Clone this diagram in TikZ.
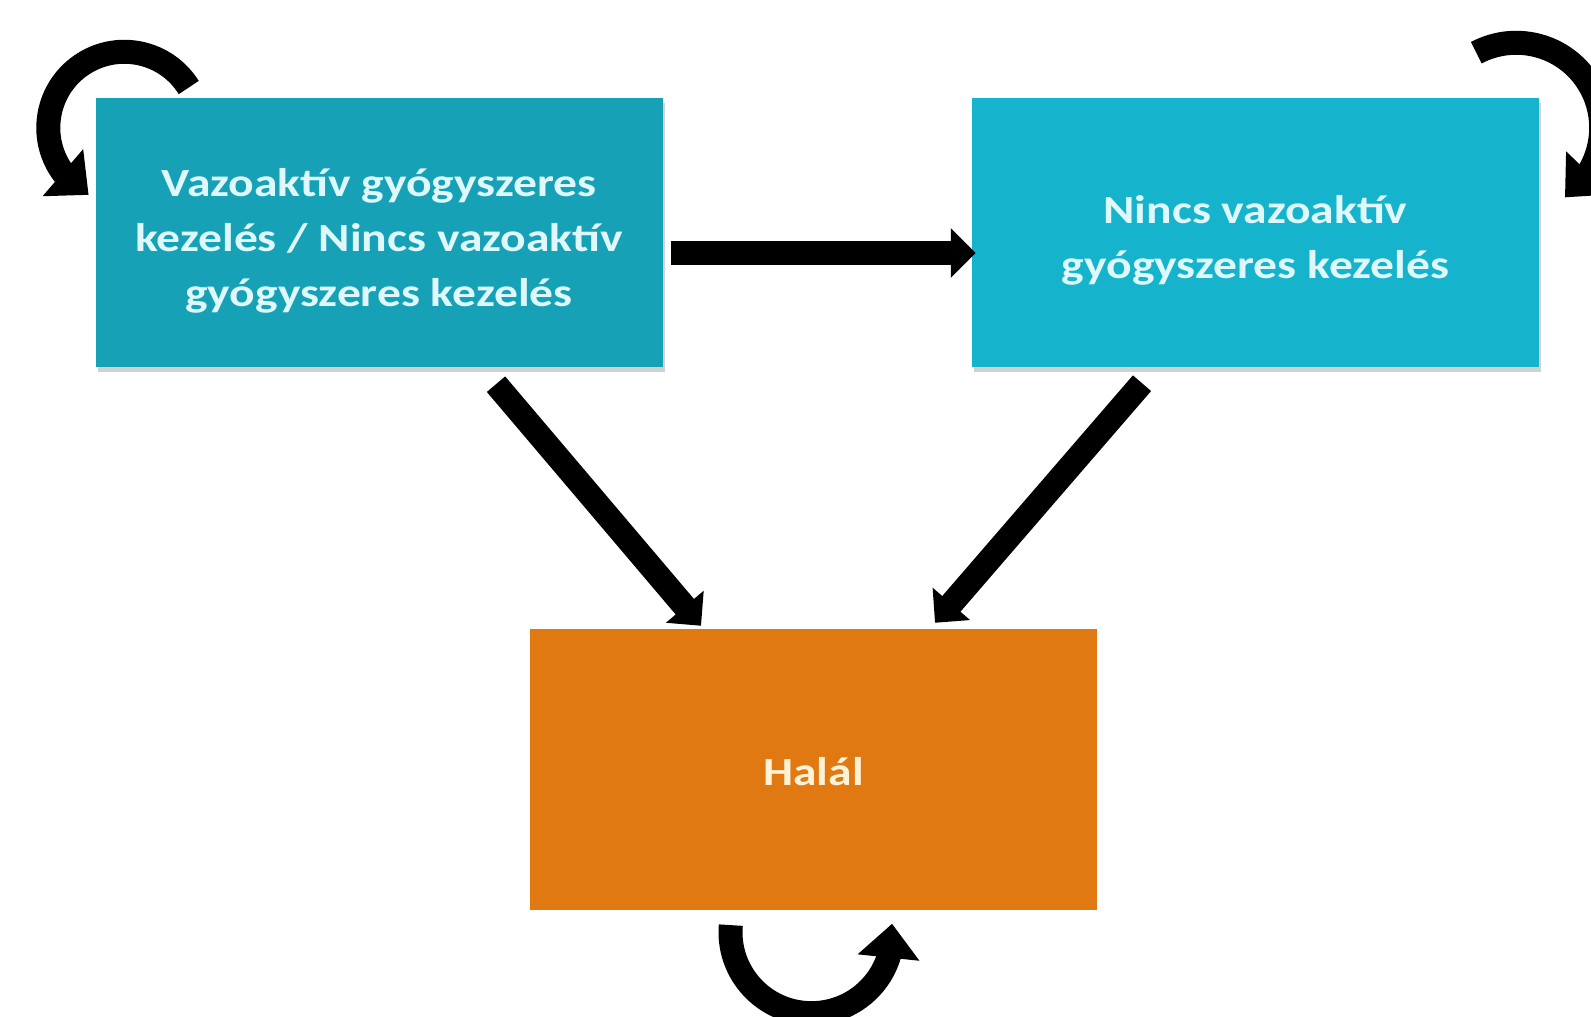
\documentclass[tikz,border=0pt]{standalone}
\usepackage{fontspec}
\setmainfont{Carlito}[FakeStretch=1.19]
\usetikzlibrary{arrows.meta,bending,shadows}
\definecolor{tealA}{RGB}{22,161,183}
\definecolor{tealB}{RGB}{22,179,205}
\definecolor{orangeC}{RGB}{224,121,18}
\definecolor{txtcyan}{RGB}{222,248,251}
\definecolor{txtcream}{RGB}{255,242,214}
\tikzset{
  box/.style={rectangle, inner sep=0pt, minimum width=567pt},
  boxtext/.style={align=center, font=\fontsize{40}{55}\selectfont\bfseries},
  bshadow/.style={drop shadow={shadow xshift=2pt, shadow yshift=-5pt, opacity=0.3, fill=black!60}},
  flow/.style={line width=24pt, -{Triangle[length=25pt,width=48pt]}},
  selfloop/.style={line width=24pt, -{Triangle[length=34pt,width=60pt,flex]}},
}
\begin{document}
\begin{tikzpicture}[x=1pt,y=1pt]
\useasboundingbox (0,0) rectangle (1591,1017);
\node[box, bshadow, fill=tealA, minimum height=269pt,
  label={[boxtext, text=txtcyan, yshift=-8pt]center:{Vazoaktív gyógyszeres\\kezelés / Nincs vazoaktív\\gyógyszeres kezelés}}]
  (A) at (379,784.5) {};
\node[box, bshadow, fill=tealB, minimum height=269pt,
  label={[boxtext, text=txtcyan, yshift=-8pt]center:{Nincs vazoaktív\\gyógyszeres kezelés}}]
  (B) at (1255.5,784.5) {};
\node[box, fill=orangeC, minimum height=281pt,
  label={[boxtext, text=txtcream, yshift=-2pt]center:{Halál}}]
  (C) at (813.5,247.5) {};
% transitions
\draw[flow] ([xshift=8pt,yshift=-20.5pt]A.east) -- ([xshift=4pt,yshift=-20.5pt]B.west);
\draw[flow] ([xshift=117pt,yshift=-17pt]A.south) -- ([xshift=-112.5pt,yshift=3pt]C.north);
\draw[flow] ([xshift=-113.5pt,yshift=-16pt]B.south) -- ([xshift=121.5pt,yshift=6pt]C.north);
% self loops
\coordinate (la) at ([shift={(29pt,-30pt)}]A.north west);
\coordinate (lb) at ([shift={(-23pt,-30pt)}]B.north east);
\coordinate (lc) at ([shift={(-2pt,-22pt)}]C.south);
\draw[selfloop] (la) ++(32:76pt) arc[start angle=32, end angle=242, radius=76pt];
\draw[selfloop] (lb) ++(118:85pt) arc[start angle=118, end angle=-55, radius=85pt];
\draw[selfloop] (lc) ++(175:81pt) arc[start angle=175, end angle=366, radius=81pt];
\end{tikzpicture}
\end{document}
